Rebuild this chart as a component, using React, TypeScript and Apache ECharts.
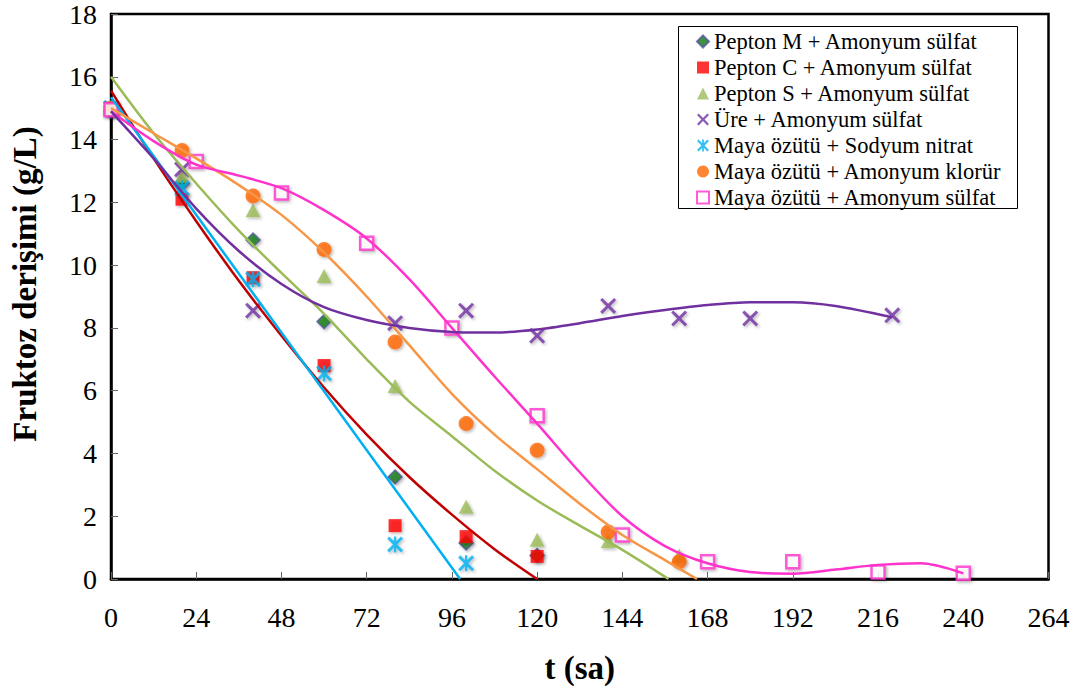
import React, { useEffect, useRef } from "react";
import * as echarts from "echarts";

// Fructose concentration (g/L) measured over fermentation time (h)
const peptonM = [[0, 14.9], [20, 12.6], [40, 10.8], [60, 8.2], [80, 3.25], [100, 1.15], [120, 0.75]];
const peptonC = [[0, 15.0], [20, 12.1], [40, 9.6], [60, 6.8], [80, 1.7], [100, 1.35], [120, 0.72]];
const peptonS = [[0, 15.0], [20, 12.85], [40, 11.75], [60, 9.65], [80, 6.15], [100, 2.3], [120, 1.25], [140, 1.2], [160, 0.75]];
const ure = [[0, 15.0], [20, 13.05], [40, 8.55], [80, 8.15], [100, 8.55], [120, 7.75], [140, 8.7], [160, 8.3], [180, 8.3], [220, 8.4]];
const mayaNitrat = [[0, 15.0], [20, 12.45], [40, 9.55], [60, 6.55], [80, 1.1], [100, 0.5]];
const mayaKlorur = [[0, 15.0], [20, 13.65], [40, 12.2], [60, 10.5], [80, 7.55], [100, 4.95], [120, 4.1], [140, 1.5], [160, 0.55]];
const mayaSulfat = [[0, 14.95], [24, 13.3], [48, 12.3], [72, 10.7], [96, 8.0], [120, 5.2], [144, 1.4], [168, 0.55], [192, 0.55], [216, 0.22], [240, 0.18]];

// Trend curves
const trendPeptonC = [[0, 15.56], [12, 13.4], [24, 11.4], [36, 9.5], [48, 7.75], [60, 6.1], [72, 4.6], [84, 3.25], [96, 2.05], [108, 0.95], [120, 0]];
const trendPeptonS = [[0, 16.0], [12, 14.2], [24, 12.6], [36, 11.1], [48, 9.75], [60, 8.45], [72, 7.0], [84, 5.65], [96, 4.55], [108, 3.45], [120, 2.5], [132, 1.7], [144, 0.93], [157, 0]];
const trendUre = [[0, 14.9], [12, 13.4], [24, 11.8], [36, 10.45], [48, 9.4], [60, 8.66], [72, 8.25], [84, 8.0], [96, 7.87], [108, 7.85], [120, 7.95], [132, 8.15], [144, 8.38], [156, 8.57], [168, 8.73], [180, 8.82], [192, 8.82], [204, 8.7], [220, 8.34]];
const trendNitrat = [[0, 15.35], [98.3, 0]];
const trendKlorur = [[0, 15.0], [12, 14.2], [24, 13.4], [36, 12.55], [48, 11.6], [60, 10.4], [72, 9.0], [84, 7.45], [96, 5.9], [108, 4.6], [120, 3.5], [132, 2.4], [144, 1.4], [156, 0.6], [165, 0]];
const trendSulfat = [[0, 14.9], [12, 13.95], [24, 13.2], [36, 12.85], [48, 12.45], [60, 11.75], [72, 10.85], [84, 9.55], [96, 8.0], [108, 6.45], [120, 4.95], [132, 3.4], [144, 2.0], [156, 1.05], [168, 0.5], [180, 0.22], [192, 0.17], [204, 0.3], [216, 0.45], [228, 0.5], [240, 0.18]];

const X_MIN = 0;
const X_MAX = 264;
const X_STEP = 24;
const Y_MIN = 0;
const Y_MAX = 18;
const Y_STEP = 2;

const FONT = "Liberation Serif";

const CROSS =
  "path://M0,1.6L1.6,0L6,4.4L10.4,0L12,1.6L7.6,6L12,10.4L10.4,12L6,7.6L1.6,12L0,10.4L4.4,6Z";
const STAR =
  "path://M0,1.6L1.6,0L6,4.4L10.4,0L12,1.6L7.6,6L12,10.4L10.4,12L6,7.6L1.6,12L0,10.4L4.4,6Z" +
  "M5.1,0L6.9,0L6.9,12L5.1,12Z";

const shadow = {
  shadowColor: "rgba(0,0,0,0.35)",
  shadowBlur: 3,
  shadowOffsetX: 1.5,
  shadowOffsetY: 1.5,
};

const scatterDefs = [
  { name: "Pepton M + Amonyum sülfat", data: peptonM, symbol: "diamond", size: 14, itemStyle: { color: "#0A7A0A", borderColor: "#55559F", borderWidth: 1.5 } },
  { name: "Pepton C + Amonyum sülfat", data: peptonC, symbol: "rect", size: 13, itemStyle: { color: "#FF0000" } },
  { name: "Pepton S + Amonyum sülfat", data: peptonS, symbol: "triangle", size: [15, 14], itemStyle: { color: "#9BBB59" } },
  { name: "Üre + Amonyum sülfat", data: ure, symbol: CROSS, size: 16, itemStyle: { color: "#7030A0" } },
  { name: "Maya özütü + Sodyum nitrat", data: mayaNitrat, symbol: STAR, size: 16, itemStyle: { color: "#00B0F0" } },
  { name: "Maya özütü + Amonyum klorür", data: mayaKlorur, symbol: "circle", size: 15, itemStyle: { color: "#FF6600" } },
  { name: "Maya özütü + Amonyum sülfat", data: mayaSulfat, symbol: "rect", size: 13, itemStyle: { color: "#FFFFFF", borderColor: "#FF33CC", borderWidth: 2.5 } },
];

const trendDefs = [
  { data: trendPeptonC, color: "#C00000" },
  { data: trendNitrat, color: "#00B0F0" },
  { data: trendPeptonS, color: "#9BBB59" },
  { data: trendKlorur, color: "#F79646" },
  { data: trendSulfat, color: "#FF33CC" },
  { data: trendUre, color: "#7030A0" },
];

export default function App() {
  const ref = useRef<HTMLDivElement>(null);

  useEffect(() => {
    if (!ref.current) return;
    const chart = echarts.init(ref.current, undefined, { renderer: "svg" });

    const series: any[] = [];
    scatterDefs.forEach((s) => {
      series.push({
        type: "scatter",
        name: s.name,
        data: s.data,
        symbol: s.symbol,
        symbolSize: s.size,
        itemStyle: { ...s.itemStyle, ...shadow },
        z: 2,
      });
    });
    trendDefs.forEach((t, i) => {
      series.push({
        type: "line",
        name: "trend-" + i,
        data: t.data,
        smooth: 0.3,
        showSymbol: false,
        symbol: "none",
        silent: true,
        lineStyle: { color: t.color, width: 2.5 },
        z: 3,
      });
    });

    chart.setOption({
      animation: false,
      backgroundColor: "#FFFFFF",
      textStyle: { fontFamily: FONT, color: "#000" },
      grid: {
        left: 108.5,
        right: 25.5,
        top: 13,
        bottom: 116,
        show: true,
        borderColor: "#000000",
        borderWidth: 2.5,
        backgroundColor: "transparent",
      },
      xAxis: {
        type: "value",
        min: X_MIN,
        max: X_MAX,
        interval: X_STEP,
        name: "t (sa)",
        nameLocation: "middle",
        nameGap: 72,
        nameTextStyle: { fontFamily: FONT, fontSize: 33, fontWeight: "bold", color: "#000" },
        axisLine: { lineStyle: { color: "#000", width: 2.5 } },
        axisTick: { inside: true, length: 7, lineStyle: { color: "#666", width: 1 } },
        axisLabel: { fontFamily: FONT, fontSize: 28, lineHeight: 28, color: "#000", margin: 24 },
        splitLine: { show: false },
      },
      yAxis: {
        type: "value",
        min: Y_MIN,
        max: Y_MAX,
        interval: Y_STEP,
        name: "Fruktoz derişimi (g/L)",
        nameLocation: "middle",
        nameGap: 70,
        nameTextStyle: { fontFamily: FONT, fontSize: 33, fontWeight: "bold", color: "#000", padding: [0, 0, 0, 25] },
        axisLine: { lineStyle: { color: "#000", width: 2.5 } },
        axisTick: { inside: true, length: 7, lineStyle: { color: "#666", width: 1 } },
        axisLabel: { fontFamily: FONT, fontSize: 28, color: "#000", margin: 14 },
        splitLine: { show: false },
      },
      legend: {
        data: scatterDefs.map((s) => s.name),
        orient: "vertical",
        left: 696,
        top: 30,
        padding: 0,
        itemWidth: 12,
        itemHeight: 12,
        itemGap: 3,
        z: 6,
        textStyle: { fontFamily: FONT, fontSize: 22.5, lineHeight: 22, color: "#000" },
      },
      graphic: [
        {
          type: "rect",
          left: 678,
          top: 26,
          z: 5,
          shape: { width: 339, height: 182 },
          style: { fill: "#FFFFFF", stroke: "#000000", lineWidth: 1 },
        },
      ],
      series,
    });

    return () => chart.dispose();
  }, []);

  return (
    <div
      ref={ref}
      style={{ position: "absolute", left: 0, top: 0, width: 1074, height: 695 }}
    />
  );
}
